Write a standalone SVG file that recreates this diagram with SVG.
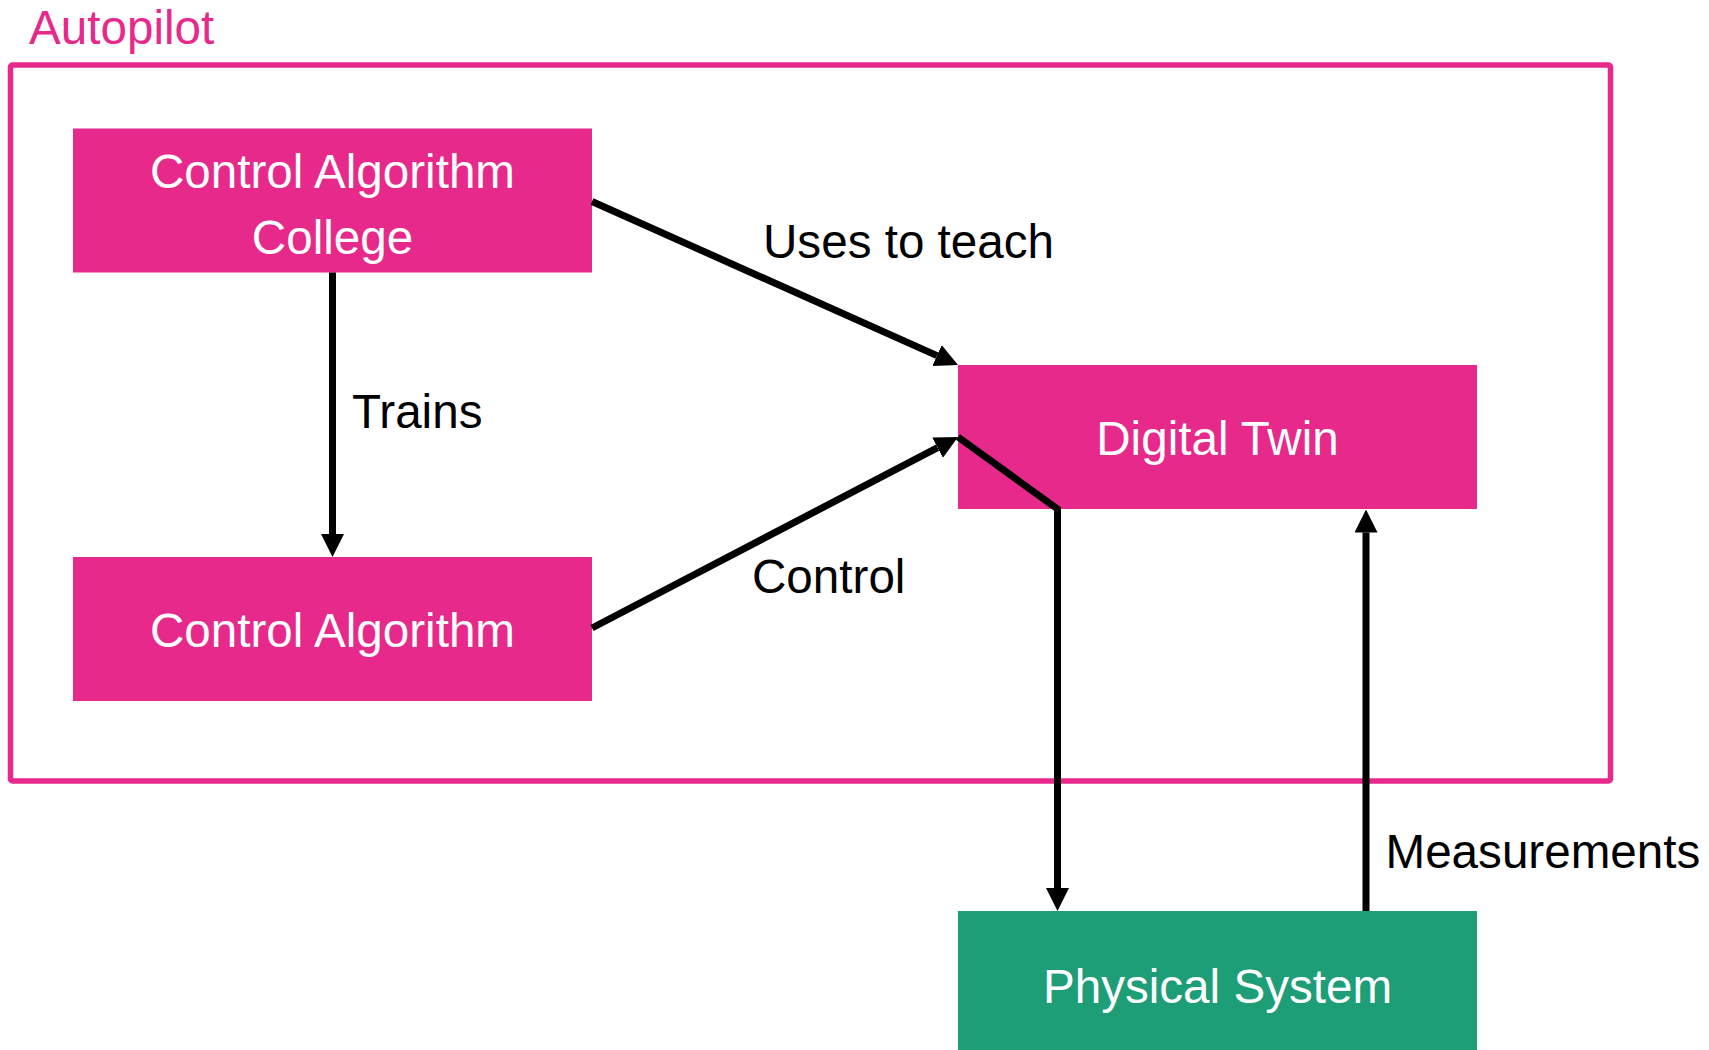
<svg xmlns="http://www.w3.org/2000/svg" width="1709" height="1050" viewBox="0 0 1709 1050">
  <style>
    .frame { fill: none; stroke: #E6298A; stroke-width: 5.5; }
    .frame-label { font-family: "Liberation Sans", Arial, sans-serif; font-size: 47.6px; fill: #E6298A; }
    .node-pink { fill: #E6298A; }
    .node-green { fill: #1D9E77; }
    .node-text { font-family: "Liberation Sans", Arial, sans-serif; font-size: 47.6px; fill: #FFFFFF; text-anchor: middle; }
    .edge { fill: none; stroke: #000000; stroke-width: 7; stroke-linecap: butt; stroke-linejoin: miter; }
    .edge-label { font-family: "Liberation Sans", Arial, sans-serif; font-size: 47.6px; fill: #000000; }
  </style>
  <defs>
    <marker id="arrow" viewBox="0 0 23 23" refX="0" refY="11.5" markerWidth="23" markerHeight="23" markerUnits="userSpaceOnUse" orient="auto">
      <path d="M0,0 L23,11.5 L0,23 Z" fill="#000000"/>
    </marker>
  </defs>

  <rect width="1709" height="1050" fill="#FFFFFF"/>

  <!-- Autopilot boundary -->
  <g id="autopilot">
    <rect class="frame" x="10.5" y="65" width="1600" height="716" rx="2"/>
    <text class="frame-label" x="29" y="44">Autopilot</text>
  </g>

  <!-- Nodes -->
  <g id="control-algorithm-college">
    <rect class="node-pink" x="73" y="128.5" width="519" height="144"/>
    <text class="node-text" x="332.5" y="188">Control Algorithm</text>
    <text class="node-text" x="332.5" y="254">College</text>
  </g>

  <g id="control-algorithm">
    <rect class="node-pink" x="73" y="557" width="519" height="144"/>
    <text class="node-text" x="332.5" y="647">Control Algorithm</text>
  </g>

  <g id="digital-twin">
    <rect class="node-pink" x="958" y="365" width="519" height="144"/>
    <text class="node-text" x="1217.5" y="455">Digital Twin</text>
  </g>

  <g id="physical-system">
    <rect class="node-green" x="958" y="911" width="519" height="144"/>
    <text class="node-text" x="1217.5" y="1003">Physical System</text>
  </g>

  <!-- Connectors -->
  <g id="connectors">
    <line class="edge" x1="332.5" y1="272.5" x2="332.5" y2="534" marker-end="url(#arrow)"/>
    <line class="edge" x1="592" y1="201.5" x2="937" y2="355.6" marker-end="url(#arrow)"/>
    <line class="edge" x1="592" y1="628" x2="937.6" y2="447.6" marker-end="url(#arrow)"/>
    <polyline class="edge" points="958,437 1057.5,509 1057.5,888" marker-end="url(#arrow)"/>
    <line class="edge" x1="1366" y1="911" x2="1366" y2="532.5" marker-end="url(#arrow)"/>

    <text class="edge-label" x="352" y="428">Trains</text>
    <text class="edge-label" x="763" y="258">Uses to teach</text>
    <text class="edge-label" x="752" y="593">Control</text>
    <text class="edge-label" x="1385.5" y="868">Measurements</text>
  </g>
</svg>
